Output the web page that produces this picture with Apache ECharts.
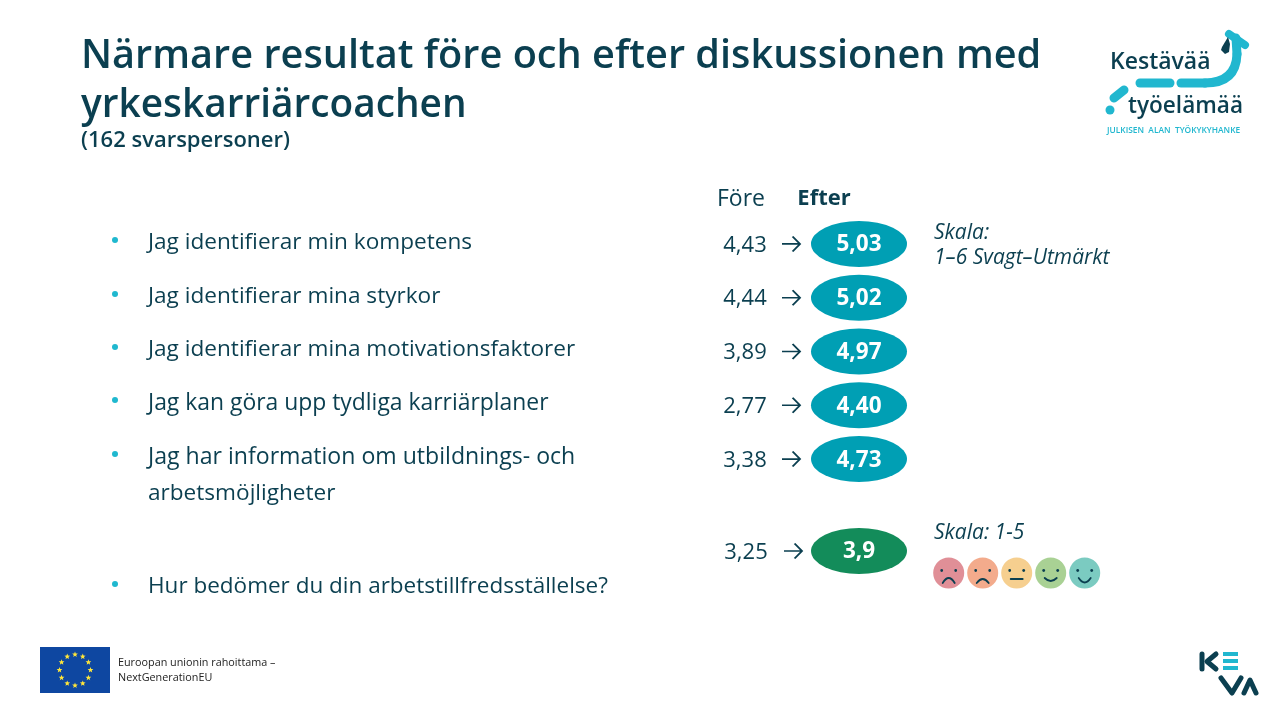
<!DOCTYPE html>
<html><head><meta charset="utf-8">
<style>html,body{margin:0;padding:0;background:#fff}#c{width:1280px;height:720px}</style>
<script src="https://cdn.jsdelivr.net/npm/echarts@6/dist/echarts.min.js"></script>
</head><body><div id="c"></div>
<script>
const titleLines = ['Närmare resultat före och efter diskussionen med', 'yrkeskarriärcoachen'];
const subtitle = '(162 svarspersoner)';
const columns = ['Före', 'Efter'];
const statements = ['Jag identifierar min kompetens', 'Jag identifierar mina styrkor', 'Jag identifierar mina motivationsfaktorer', 'Jag kan göra upp tydliga karriärplaner', 'Jag har information om utbildnings- och'];
const statementWrap = 'arbetsmöjligheter';
const satisfaction = 'Hur bedömer du din arbetstillfredsställelse?';
const foreValues = [4.43, 4.44, 3.89, 2.77, 3.38];
const efterValues = [5.03, 5.02, 4.97, 4.40, 4.73];
const satForeValues = [3.25];
const satEfterValues = [3.9];
const scaleNote = ['Skala:', '1–6 Svagt–Utmärkt'];
const satScaleNote = 'Skala: 1-5';
const euText = ['Euroopan unionin rahoittama –', 'NextGenerationEU'];

const DARK = '#0b3f50', TEAL = '#009fb4', GREEN = '#138c5a', CYAN = '#1fb8cf';
const FONT = '"Open Sans"';
const comma = d => p => p.value[2].toFixed(d).replace('.', ',');
const ARROW = 'path://M0 8L17 8M10 1L17 8L10 15';

function rowSeries(gi, rows, fore, efter, dec, color, foreShift, arrowShift) {
  const at = (col, v) => v.map((x, i) => [col, rows[i], x]);
  return [
    { type: 'scatter', xAxisIndex: gi, yAxisIndex: gi, data: at(columns[0], fore), symbol: ARROW,
      symbolSize: [18, 15], symbolOffset: [arrowShift, 0], silent: true,
      itemStyle: { color: 'none', borderColor: DARK, borderWidth: 1.8, opacity: 1 } },
    { type: 'scatter', xAxisIndex: gi, yAxisIndex: gi, data: at(columns[0], fore), symbolSize: 1, silent: true,
      itemStyle: { color: 'none', opacity: 1 },
      label: { show: true, position: 'inside', offset: [foreShift, 1.5], formatter: comma(2), color: DARK, opacity: 1,
        fontFamily: FONT, fontSize: 22 } },
    { type: 'scatter', xAxisIndex: gi, yAxisIndex: gi, data: at(columns[1], efter), symbol: 'circle',
      symbolSize: [96, 46], silent: true, itemStyle: { color, opacity: 1 },
      label: { show: true, position: 'inside', offset: [0, 1], formatter: comma(dec), color: '#fff', fontFamily: FONT,
        fontWeight: 700, fontSize: 22.5 } }
  ];
}

const T = (text, x, y, font, fill, extra) => ({ type: 'text', silent: true,
  style: Object.assign({ text, x, y, font, fill, verticalAlign: 'middle', align: 'left' }, extra || {}) });
const line = (pts, style) => ({ type: 'polyline', silent: true, shape: { points: pts }, style });
const curve = (x1, y1, cx, cy, x2, y2, style) => ({ type: 'bezierCurve', silent: true,
  shape: { x1, y1, cpx1: cx, cpy1: cy, x2, y2 }, style });
const graphics = [];
// title
graphics.push(T(titleLines[0], 81, 57, `600 39.7px ${FONT}`, DARK));
graphics.push(T(titleLines[1], 81, 106, `600 38.8px ${FONT}`, DARK));
graphics.push(T(subtitle, 81, 141, `600 22px ${FONT}`, DARK));
// column heads
graphics.push(T(columns[0], 741, 199, `400 23px ${FONT}`, DARK, { align: 'center' }));
graphics.push(T(columns[1], 824, 199, `700 22px ${FONT}`, DARK, { align: 'center' }));
// statements
const stmtY = [243, 297, 350, 403, 457];
const stmtPx = [22.6, 22.6, 22.6, 22.9, 23.1];
statements.forEach((s, i) => {
  graphics.push({ type: 'circle', silent: true, shape: { cx: 115, cy: stmtY[i] - 3, r: 3 }, style: { fill: CYAN } });
  graphics.push(T(s, 148, stmtY[i], `400 ${stmtPx[i]}px ${FONT}`, DARK));
});
graphics.push(T(statementWrap, 148, 494, `400 22.6px ${FONT}`, DARK));
graphics.push({ type: 'circle', silent: true, shape: { cx: 115, cy: 584, r: 3 }, style: { fill: CYAN } });
graphics.push(T(satisfaction, 148, 587, `400 22.5px ${FONT}`, DARK));
// scale notes
graphics.push(T(scaleNote[0], 934, 233, `italic 400 21px ${FONT}`, DARK));
graphics.push(T(scaleNote[1], 934, 258, `italic 400 21px ${FONT}`, DARK));
graphics.push(T(satScaleNote, 934, 533, `italic 400 21px ${FONT}`, DARK));
// smileys
const faceFill = ['#e08f97', '#f3ab8c', '#f6cf8f', '#a9d194', '#7bcbc1'];
const mouthBow = [-10, -8, 0, 6, 9];
faceFill.forEach((f, i) => {
  const cx = 948.7 + i * 34, cy = 573;
  const dark = { stroke: DARK, fill: 'none', lineWidth: 1.8, lineCap: 'round' };
  graphics.push({ type: 'circle', silent: true, shape: { cx, cy, r: 15.5 }, style: { fill: f } });
  [-7, 7].forEach(dx => graphics.push({ type: 'circle', silent: true, shape: { cx: cx + dx, cy: cy - 2.5, r: 1.4 }, style: { fill: DARK } }));
  const b = mouthBow[i], base = b < 0 ? cy + 10 : (b === 0 ? cy + 6 : cy + 5);
  graphics.push(curve(cx - 6, base, cx, base + b, cx + 6, base, dark));
});
// Kestävää logo
const lg = { fill: 'none', stroke: '#21b7cf', lineCap: 'round', lineJoin: 'round' };
const w9 = Object.assign({}, lg, { lineWidth: 9 });
graphics.push(line([[1181, 83], [1205, 83]], w9));
graphics.push(curve(1205, 83, 1236, 83, 1237, 54, w9));
graphics.push(line([[1237, 54], [1236, 38]], w9));
graphics.push(line([[1229, 34], [1245, 45]], Object.assign({}, lg, { lineWidth: 8 })));
graphics.push(line([[1140, 83], [1170, 83]], w9));
graphics.push(line([[1114, 98], [1124, 90]], w9));
graphics.push({ type: 'circle', silent: true, shape: { cx: 1110, cy: 110, r: 4.5 }, style: { fill: '#21b7cf' } });
graphics.push({ type: 'polygon', silent: true, shape: { points: [[1228, 37], [1222, 47], [1221, 50], [1225, 54], [1229, 52], [1230, 44]] }, style: { fill: '#0b3f50' } });
graphics.push(T('Kestävää', 1110, 62, `600 23px ${FONT}`, '#0b3f50'));
graphics.push(T('työelämää', 1128, 107, `600 22.6px ${FONT}`, '#0b3f50'));
graphics.push(T('JULKISEN  ALAN  TYÖKYKYHANKE', 1107, 131, `600 8.4px ${FONT}`, '#21b7cf'));
// EU flag
graphics.push({ type: 'rect', silent: true, shape: { x: 40, y: 647, width: 70, height: 46 }, style: { fill: '#0e47a1' } });
for (let i = 0; i < 12; i++) {
  const a = i * Math.PI / 6;
  graphics.push({ type: 'polygon', silent: true, shape: { points: Array.from({ length: 10 }, (_, k) => {
    const r = k % 2 ? 1.3 : 3, b = k * Math.PI / 5;
    return [75 + 15.5 * Math.sin(a) + r * Math.sin(b), 670 - 15.5 * Math.cos(a) - r * Math.cos(b)];
  }) }, style: { fill: '#ffe63a' } });
}
graphics.push(T(euText[0], 118, 663, `400 10.8px ${FONT}`, '#222'));
graphics.push(T(euText[1], 118, 678, `400 10.8px ${FONT}`, '#222'));
// KEVA logo
const kv = { fill: 'none', stroke: '#0b3f50', lineWidth: 5, lineCap: 'round', lineJoin: 'round' };
graphics.push(line([[1202, 654], [1202, 669]], kv));
graphics.push(line([[1216, 654], [1207, 661.5], [1216, 669]], kv));
[654, 661, 668].forEach(y => graphics.push({ type: 'rect', silent: true, shape: { x: 1223, y: y - 2, width: 15, height: 4 }, style: { fill: '#21b7cf' } }));
graphics.push(line([[1221, 678], [1232, 693], [1241, 678]], kv));
graphics.push(line([[1244, 693], [1250, 680], [1256, 693]], kv));

const chart = echarts.init(document.getElementById('c'), null, { renderer: 'canvas' });
const rows = statements;
const satRows = [satisfaction];
chart.setOption({
  animation: false, backgroundColor: '#fff',
  grid: [
    { left: 682, width: 236, top: 217, height: 269 },
    { left: 682, width: 236, top: 524, height: 54 }
  ],
  xAxis: [0, 1].map(g => ({ type: 'category', gridIndex: g, data: columns, show: false })),
  yAxis: [
    { type: 'category', gridIndex: 0, data: rows, inverse: true, show: false },
    { type: 'category', gridIndex: 1, data: satRows, inverse: true, show: false }
  ],
  series: [
    ...rowSeries(0, rows, foreValues, efterValues, 2, TEAL, 4, 50),
    ...rowSeries(1, satRows, satForeValues, satEfterValues, 1, GREEN, 5, 52)
  ],
  graphic: { elements: graphics }
});
</script></body></html>
